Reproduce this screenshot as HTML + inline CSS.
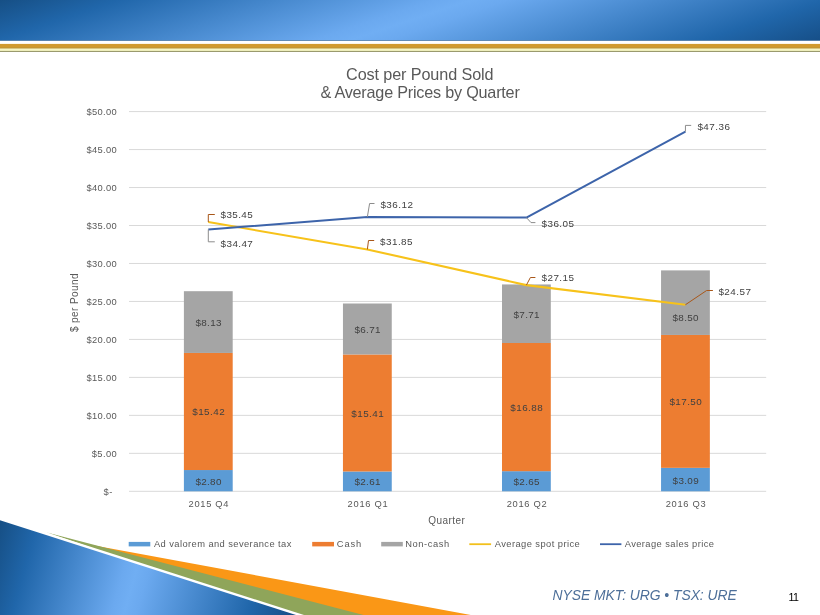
<!DOCTYPE html>
<html lang="en"><head><meta charset="utf-8"><title>Cost per Pound Sold</title>
<style>
html,body{margin:0;padding:0;background:#fff;}
body{width:820px;height:615px;overflow:hidden;position:relative;font-family:"Liberation Sans",sans-serif;}
svg{position:absolute;left:0;top:0;display:block;}
text{font-family:"Liberation Sans",sans-serif;}
svg{will-change:transform;}
</style></head><body>
<svg width="820" height="615" viewBox="0 0 820 615">
<defs>
<linearGradient id="hg" gradientUnits="userSpaceOnUse" x1="0" y1="0" x2="94.75" y2="283.2">
<stop offset="0" stop-color="#164f85"/><stop offset="0.125" stop-color="#2066aa"/><stop offset="0.46" stop-color="#6ba9ef"/><stop offset="0.5" stop-color="#70aef3"/><stop offset="0.54" stop-color="#6ba9ef"/><stop offset="0.875" stop-color="#2066aa"/><stop offset="1" stop-color="#164f88"/>
</linearGradient>
<linearGradient id="tg" gradientUnits="userSpaceOnUse" x1="0" y1="520.6" x2="296.1" y2="604.3">
<stop offset="0" stop-color="#164f85"/><stop offset="0.12" stop-color="#2066aa"/><stop offset="0.43" stop-color="#6ba9ef"/><stop offset="0.47" stop-color="#70aef3"/><stop offset="0.51" stop-color="#6ba9ef"/><stop offset="0.86" stop-color="#2066aa"/><stop offset="1" stop-color="#164f88"/>
</linearGradient>
</defs>
<rect x="0" y="0" width="820" height="615" fill="#ffffff"/>
<!-- header -->
<rect x="0" y="0" width="820" height="40.5" fill="url(#hg)"/>
<rect x="0" y="40" width="820" height="0.7" fill="#3f6f9f"/>
<rect x="0" y="43.9" width="820" height="4.7" fill="#d19a2e"/>
<rect x="0" y="47.6" width="820" height="1" fill="#b3933a"/>
<rect x="0" y="48.6" width="820" height="2.4" fill="#f6f6c4"/>
<rect x="0" y="50.9" width="820" height="1.1" fill="#9a9a6e"/>
<!-- bottom-left decoration -->
<polygon points="93,545.2 470.8,615 300,615" fill="#fa9716"/>
<polygon points="46.8,532.5 363.5,615 290,615" fill="#8fa55a"/>
<polygon points="0,517.7 304,615 0,615" fill="#ffffff"/>
<polygon points="0,520.3 296,615 0,615" fill="url(#tg)"/>

<g stroke="#d9d9d9" stroke-width="1">
<line x1="129.0" y1="491.30" x2="766.2" y2="491.30"/>
<line x1="129.0" y1="453.33" x2="766.2" y2="453.33"/>
<line x1="129.0" y1="415.36" x2="766.2" y2="415.36"/>
<line x1="129.0" y1="377.39" x2="766.2" y2="377.39"/>
<line x1="129.0" y1="339.42" x2="766.2" y2="339.42"/>
<line x1="129.0" y1="301.45" x2="766.2" y2="301.45"/>
<line x1="129.0" y1="263.48" x2="766.2" y2="263.48"/>
<line x1="129.0" y1="225.51" x2="766.2" y2="225.51"/>
<line x1="129.0" y1="187.54" x2="766.2" y2="187.54"/>
<line x1="129.0" y1="149.57" x2="766.2" y2="149.57"/>
<line x1="129.0" y1="111.60" x2="766.2" y2="111.60"/>
</g>
<text x="91.81" y="456.63" font-size="9.33" letter-spacing="0.376" fill="#595959">$5.00</text>
<text x="86.61" y="418.66" font-size="9.33" letter-spacing="0.303" fill="#595959">$10.00</text>
<text x="86.61" y="380.69" font-size="9.33" letter-spacing="0.303" fill="#595959">$15.00</text>
<text x="86.61" y="342.72" font-size="9.33" letter-spacing="0.303" fill="#595959">$20.00</text>
<text x="86.61" y="304.75" font-size="9.33" letter-spacing="0.303" fill="#595959">$25.00</text>
<text x="86.61" y="266.78" font-size="9.33" letter-spacing="0.303" fill="#595959">$30.00</text>
<text x="86.61" y="228.81" font-size="9.33" letter-spacing="0.303" fill="#595959">$35.00</text>
<text x="86.61" y="190.84" font-size="9.33" letter-spacing="0.303" fill="#595959">$40.00</text>
<text x="86.61" y="152.87" font-size="9.33" letter-spacing="0.303" fill="#595959">$45.00</text>
<text x="86.61" y="114.90" font-size="9.33" letter-spacing="0.303" fill="#595959">$50.00</text>
<text x="103.41" y="494.60" font-size="9.33" letter-spacing="0.609" fill="#595959">$-</text>
<rect x="183.90" y="470.04" width="48.8" height="21.26" fill="#5b9bd5"/>
<rect x="183.90" y="352.94" width="48.8" height="117.10" fill="#ed7d31"/>
<rect x="183.90" y="291.20" width="48.8" height="61.74" fill="#a5a5a5"/>
<rect x="342.95" y="471.48" width="48.8" height="19.82" fill="#5b9bd5"/>
<rect x="342.95" y="354.46" width="48.8" height="117.02" fill="#ed7d31"/>
<rect x="342.95" y="303.50" width="48.8" height="50.96" fill="#a5a5a5"/>
<rect x="502.00" y="471.18" width="48.8" height="20.12" fill="#5b9bd5"/>
<rect x="502.00" y="342.99" width="48.8" height="128.19" fill="#ed7d31"/>
<rect x="502.00" y="284.44" width="48.8" height="58.55" fill="#a5a5a5"/>
<rect x="661.05" y="467.83" width="48.8" height="23.47" fill="#5b9bd5"/>
<rect x="661.05" y="334.94" width="48.8" height="132.90" fill="#ed7d31"/>
<rect x="661.05" y="270.39" width="48.8" height="64.55" fill="#a5a5a5"/>
<text x="195.40" y="484.67" font-size="9.9" letter-spacing="0.326" fill="#404040">$2.80</text>
<text x="192.25" y="415.49" font-size="9.9" letter-spacing="0.444" fill="#404040">$15.42</text>
<text x="195.40" y="326.07" font-size="9.9" letter-spacing="0.339" fill="#404040">$8.13</text>
<text x="354.45" y="485.39" font-size="9.9" letter-spacing="0.351" fill="#404040">$2.61</text>
<text x="351.30" y="416.97" font-size="9.9" letter-spacing="0.440" fill="#404040">$15.41</text>
<text x="354.45" y="332.98" font-size="9.9" letter-spacing="0.351" fill="#404040">$6.71</text>
<text x="513.50" y="485.24" font-size="9.9" letter-spacing="0.334" fill="#404040">$2.65</text>
<text x="510.35" y="411.08" font-size="9.9" letter-spacing="0.430" fill="#404040">$16.88</text>
<text x="513.50" y="317.71" font-size="9.9" letter-spacing="0.351" fill="#404040">$7.71</text>
<text x="672.55" y="483.57" font-size="9.9" letter-spacing="0.349" fill="#404040">$3.09</text>
<text x="669.40" y="405.39" font-size="9.9" letter-spacing="0.420" fill="#404040">$17.50</text>
<text x="672.55" y="321.00" font-size="9.9" letter-spacing="0.326" fill="#404040">$8.50</text>
<polyline points="208.30,222.09 367.35,249.43 526.40,285.12 685.45,304.72" fill="none" stroke="#f7c21a" stroke-width="2.1" stroke-linejoin="round"/>
<polyline points="208.30,229.53 367.35,217.00 526.40,217.54 685.45,131.65" fill="none" stroke="#3d64aa" stroke-width="2" stroke-linejoin="round"/>
<polyline points="208.30,222.09 208.30,214.50 214.80,214.50" fill="none" stroke="#a8571a" stroke-width="1"/>
<polyline points="367.35,249.43 368.50,240.50 374.20,240.50" fill="none" stroke="#a8571a" stroke-width="1"/>
<polyline points="526.40,285.12 530.40,277.50 535.40,277.50" fill="none" stroke="#a8571a" stroke-width="1"/>
<polyline points="685.45,304.72 706.60,290.50 712.90,290.50" fill="none" stroke="#a8571a" stroke-width="1"/>
<polyline points="208.30,229.53 208.30,241.80 214.80,241.80" fill="none" stroke="#8c8c8c" stroke-width="1"/>
<polyline points="367.35,217.00 369.60,203.50 374.50,203.50" fill="none" stroke="#8c8c8c" stroke-width="1"/>
<polyline points="526.40,217.54 531.00,222.60 535.40,222.60" fill="none" stroke="#8c8c8c" stroke-width="1"/>
<polyline points="685.45,131.65 685.45,125.40 691.20,125.40" fill="none" stroke="#8c8c8c" stroke-width="1"/>
<text x="220.60" y="218.00" font-size="9.9" letter-spacing="0.386" fill="#404040">$35.45</text>
<text x="220.60" y="246.90" font-size="9.9" letter-spacing="0.404" fill="#404040">$34.47</text>
<text x="380.40" y="208.10" font-size="9.9" letter-spacing="0.484" fill="#404040">$36.12</text>
<text x="380.10" y="245.00" font-size="9.9" letter-spacing="0.446" fill="#404040">$31.85</text>
<text x="541.50" y="226.90" font-size="9.9" letter-spacing="0.446" fill="#404040">$36.05</text>
<text x="541.50" y="280.90" font-size="9.9" letter-spacing="0.446" fill="#404040">$27.15</text>
<text x="697.40" y="130.20" font-size="9.9" letter-spacing="0.470" fill="#404040">$47.36</text>
<text x="718.40" y="294.90" font-size="9.9" letter-spacing="0.484" fill="#404040">$24.57</text>
<text x="188.53" y="506.70" font-size="9.33" letter-spacing="0.691" fill="#595959">2015 Q4</text>
<text x="347.58" y="506.70" font-size="9.33" letter-spacing="0.721" fill="#595959">2016 Q1</text>
<text x="506.63" y="506.70" font-size="9.33" letter-spacing="0.724" fill="#595959">2016 Q2</text>
<text x="665.68" y="506.70" font-size="9.33" letter-spacing="0.713" fill="#595959">2016 Q3</text>
<text x="428.33" y="523.60" font-size="10" letter-spacing="0.422" fill="#595959">Quarter</text>
<text transform="translate(77.70,332.00) rotate(-90)" x="-0.10" y="0" font-size="10" letter-spacing="0.425" fill="#595959">$ per Pound</text>
<text x="346.09" y="79.80" font-size="16.2" letter-spacing="-0.108" fill="#595959">Cost per Pound Sold</text>
<text x="320.43" y="97.90" font-size="16.2" letter-spacing="-0.210" fill="#595959">&amp; Average Prices by Quarter</text>
<rect x="128.7" y="541.9" width="21.6" height="4.5" fill="#5b9bd5"/>
<rect x="312.2" y="541.9" width="21.8" height="4.5" fill="#ed7d31"/>
<rect x="381.2" y="541.9" width="21.6" height="4.5" fill="#a5a5a5"/>
<line x1="469.3" y1="544.2" x2="491.1" y2="544.2" stroke="#f2c01c" stroke-width="1.8"/>
<line x1="600.0" y1="544.2" x2="621.4" y2="544.2" stroke="#3d64aa" stroke-width="1.8"/>
<text x="153.98" y="546.90" font-size="9.33" letter-spacing="0.422" fill="#595959">Ad valorem and severance tax</text>
<text x="336.83" y="546.90" font-size="9.33" letter-spacing="0.829" fill="#595959">Cash</text>
<text x="405.23" y="546.90" font-size="9.33" letter-spacing="0.590" fill="#595959">Non-cash</text>
<text x="494.68" y="546.90" font-size="9.33" letter-spacing="0.441" fill="#595959">Average spot price</text>
<text x="624.68" y="546.90" font-size="9.33" letter-spacing="0.420" fill="#595959">Average sales price</text>
<text x="552.58" y="599.80" font-size="13.9" letter-spacing="-0.046" fill="#4d6f99" font-style="italic">NYSE MKT: URG • TSX: URE</text>
<text x="788.39" y="600.60" font-size="10.67" letter-spacing="-0.452" fill="#000000">11</text>
</svg></body></html>
